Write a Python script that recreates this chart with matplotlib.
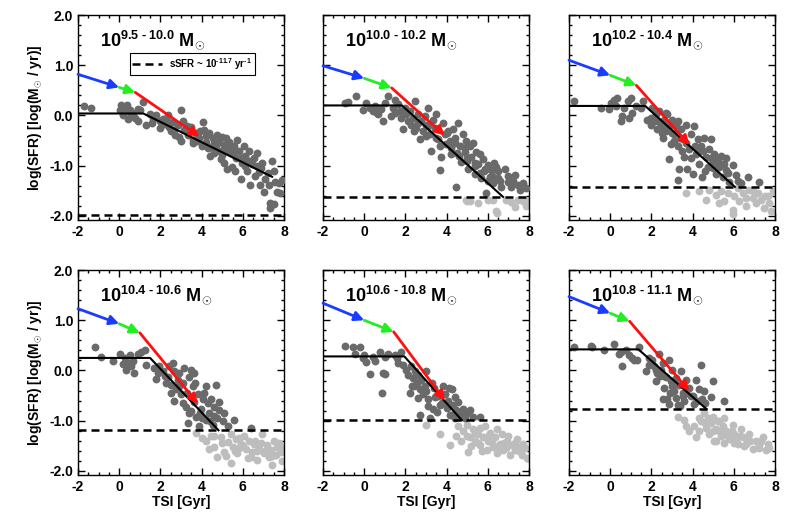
import numpy as np
import matplotlib
matplotlib.use("Agg")
import matplotlib.pyplot as plt
from matplotlib.lines import Line2D
from matplotlib.ticker import MultipleLocator

plt.rcParams['font.family'] = ['Liberation Sans', 'DejaVu Sans']
plt.rcParams['font.weight'] = 'bold'
plt.rcParams['mathtext.fontset'] = 'custom'
plt.rcParams['mathtext.rm'] = 'Liberation Sans:bold'
plt.rcParams['mathtext.it'] = 'Liberation Sans:bold'
plt.rcParams['mathtext.bf'] = 'Liberation Sans:bold'
plt.rcParams['axes.unicode_minus'] = False

# mass bins (exponent ranges)
mass_bins = ['9.5 - 10.0', '10.0 - 10.2', '10.2 - 10.4', '10.4 - 10.6', '10.6 - 10.8', '10.8 - 11.1']

# sSFR ~ 10^-11.7 threshold per bin
ssfr_y = [-1.98, -1.62, -1.42, -1.19, -0.99, -0.77]

# broken-line model: flat until knee, then linear down to end point
flat_y = [0.04, 0.20, 0.19, 0.25, 0.28, 0.42]
knee_x = [1.17, 1.83, 1.70, 1.50, 1.95, 1.37]
end_x = [7.42, 6.74, 6.05, 4.82, 4.74, 4.68]
end_y = [-1.22, -1.62, -1.42, -1.19, -0.99, -0.77]

# arrows blue -> green -> red
blue_y0 = [0.82, 0.99, 1.10, 1.23, 1.34, 1.47]
blue_y1 = [0.56, 0.74, 0.80, 0.93, 1.00, 1.14]
green_x1 = [0.78, 1.33, 1.27, 1.00, 1.43, 0.94]
green_y1 = [0.46, 0.55, 0.60, 0.75, 0.77, 0.98]
red_x1 = [3.90, 3.92, 3.85, 3.82, 3.92, 3.84]
red_y1 = [-0.42, -0.40, -0.59, -0.66, -0.60, -0.41]

# points: star forming (dark) and below threshold (light)
p1_dark_x = [-1.69, -1.36, 0.08, 0.40, 0.03, 0.27, 0.51, 0.59, 0.43, 0.75, 0.91, 0.67, 1.16, 1.00, 1.32,
             1.48, 1.64, 1.80, 1.96, 2.12, 2.20, 2.36, 2.44, 2.60, 2.68, 2.84, 3.00, 3.08, 2.92, 3.16,
             3.32, 3.48, 3.56, 3.72, 3.88, 4.05, 4.10, 4.20, 4.30, 4.37, 4.53, 4.61, 4.69, 4.77, 4.85,
             4.93, 5.00, 5.09, 5.17, 5.25, 5.33, 5.41, 5.49, 5.57, 5.65, 5.73, 5.81, 5.89, 5.97, 6.05,
             6.13, 6.20, 6.28, 6.37, 6.45, 6.53, 6.69, 6.77, 6.85, 6.93, 7.01, 7.09, 7.26, 7.34, 7.42,
             7.50, 7.58, 7.66, 7.74, 7.82, 7.90, 7.50, 7.34, 0.20, 0.90, 1.60, 2.00, 2.30, 2.70, 3.30,
             3.60, 3.90, 4.00, 4.40, 4.60, 4.90, 5.10, 5.40, 5.60, 5.90, 6.10, 6.30, 6.60, 6.90, 7.20,
             5.20, 4.20, 3.00, 2.50, 3.80, 4.50, 5.00, 5.50, 6.00, 6.70]
p1_dark_y = [0.18, 0.14, 0.21, 0.21, 0.11, 0.08, 0.11, 0.00, -0.06, -0.05, -0.10, 0.05, 0.26, 0.10, -0.19,
             0.03, -0.06, 0.00, -0.10, -0.06, -0.16, 0.00, -0.23, -0.13, -0.29, -0.19, 0.10, -0.10, -0.42, -0.29,
             -0.39, -0.23, -0.48, -0.35, -0.45, -0.13, -0.29, -0.52, -0.65, -0.35, -0.45, -0.74, -0.58, -0.39, -0.52,
             -0.87, -0.42, -0.58, -0.68, -1.06, -0.52, -0.74, -1.03, -0.61, -0.84, -0.48, -0.71, -1.26, -0.94, -0.61,
             -0.81, -1.10, -0.71, -1.39, -0.97, -0.84, -0.74, -1.13, -1.39, -0.94, -1.52, -1.26, -1.39, -1.74, -0.90,
             -1.10, -1.32, -1.52, -1.35, -1.55, -1.29, -1.77, -1.85, 0.00, 0.12, -0.15, -0.25, -0.10, -0.38, -0.20,
             -0.55, -0.30, -0.60, -0.80, -0.55, -0.70, -0.95, -0.60, -1.10, -0.85, -1.00, -0.90, -1.20, -1.05, -1.15,
             -0.45, -0.40, -0.50, -0.30, -0.50, -0.62, -0.78, -0.72, -0.92, -1.00]
p1_light_x = []
p1_light_y = []

p2_dark_x = [-0.95, -0.79, -0.41, -0.06, 0.10, 0.27, 0.43, 0.51, 0.67, 0.83, 0.91, 0.99, 1.16, 1.32, 1.40,
             1.48, 1.64, 1.72, 1.80, 1.88, 1.96, 2.05, 2.13, 2.21, 2.29, 2.37, 2.45, 2.53, 2.61, 2.69,
             2.77, 2.85, 2.94, 3.02, 3.10, 3.18, 3.26, 3.34, 3.42, 3.50, 3.58, 3.66, 3.74, 3.83, 3.91,
             3.99, 4.07, 4.15, 4.23, 4.31, 4.39, 4.47, 4.55, 4.63, 4.72, 4.80, 4.88, 4.96, 5.04, 5.12,
             5.20, 5.28, 5.36, 5.44, 5.52, 5.61, 5.69, 5.77, 5.85, 5.93, 6.01, 6.09, 6.17, 6.25, 6.41,
             6.50, 6.66, 6.82, 6.98, 7.14, 7.30, 7.47, 7.55, 7.71, 7.87, 2.40, 3.00, 3.70, 4.20, 4.60,
             5.00, 5.40, 5.80, 6.20, 6.60, 7.00, 4.40, 4.90, 5.60, 6.30, 2.60, 3.10, 3.50, 4.00, 4.50,
             5.00, 5.40, 6.00, 6.50, 7.20, 1.50, 0.60]
p2_dark_y = [0.25, 0.27, 0.38, 0.10, 0.25, 0.15, 0.08, 0.18, 0.02, 0.12, -0.11, 0.25, 0.38, -0.01, 0.15,
             0.31, 0.22, 0.08, -0.05, -0.27, 0.15, 0.02, -0.11, 0.08, -0.18, -0.05, 0.28, -0.24, 0.02, -0.47,
             -0.11, -0.31, -0.01, -0.18, 0.15, -0.37, -0.70, -0.08, -0.24, 0.02, -0.47, -1.09, -0.83, -0.14, -0.37,
             -0.57, -0.31, -0.50, -0.76, -0.27, -0.44, -1.42, -0.14, -0.60, -0.93, -0.37, -0.73, -0.50, -1.06, -0.60,
             -0.83, -0.54, -1.16, -0.73, -0.96, -0.76, -1.25, -0.86, -1.06, -1.55, -0.99, -1.22, -1.09, -1.35, -1.03,
             -1.25, -1.42, -1.06, -1.33, -1.42, -1.19, -1.39, -1.48, -1.35, -1.45, -0.30, -0.40, -0.60, -0.65, -0.80,
             -0.85, -1.00, -1.10, -1.20, -1.30, -1.20, -0.55, -0.65, -1.15, -0.95, -0.15, -0.20, -0.45, -0.35, -0.75,
             -0.90, -0.95, -1.30, -1.10, -1.30, 0.05, 0.05]
p2_light_x = [4.96, 5.12, 6.01, 6.25, 6.41, 6.90, 7.14, 7.30, 7.71, 7.87, 7.47, 6.43, 4.97, 5.50, 7.95]
p2_light_y = [-1.69, -1.71, -1.68, -1.68, -1.91, -1.68, -1.73, -1.83, -1.71, -1.80, -1.68, -1.95, -1.71, -1.75, -1.70]

p3_dark_x = [-1.76, -0.46, -0.06, 0.03, 0.19, 0.27, 0.35, 0.51, 0.59, 0.67, 0.84, 0.92, 1.00, 1.08, 1.24,
             1.48, 1.57, 1.81, 1.97, 2.05, 2.13, 2.21, 2.29, 2.38, 2.46, 2.54, 2.62, 2.70, 2.78, 2.86,
             2.86, 2.94, 3.02, 3.11, 3.19, 3.27, 3.27, 3.35, 3.43, 3.51, 3.59, 3.67, 3.75, 3.83, 3.92,
             4.00, 4.08, 4.16, 4.24, 4.32, 4.40, 4.48, 4.56, 4.65, 4.73, 4.81, 4.89, 4.97, 5.05, 5.13,
             5.21, 5.29, 5.37, 5.46, 5.54, 5.62, 5.78, 5.94, 6.10, 6.35, 6.67, 7.24, 2.30, 2.60, 3.00,
             3.40, 3.70, 4.10, 4.50, 4.90, 5.30, 5.70, 2.00, 2.50, 3.10, 3.50, 3.90, 4.30, 4.60, 5.00,
             5.60, 6.20, 2.70, 3.30]
p3_dark_y = [0.28, 0.15, 0.12, 0.25, 0.31, 0.18, 0.35, -0.11, -0.01, 0.15, 0.28, -0.05, 0.35, 0.05, 0.18,
             0.15, 0.28, -0.08, -0.18, 0.15, -0.11, 0.02, -0.27, 0.08, -0.18, -0.44, -0.08, -0.31, 0.02, -0.21,
             -0.86, -0.57, -0.08, -0.37, -0.18, -0.60, -1.29, -1.06, -0.27, -0.47, -0.83, -0.18, -1.06, -0.67, -0.37,
             -1.16, -0.21, -0.76, -0.47, -0.96, -0.60, -1.22, -0.44, -0.83, -1.03, -0.67, -0.47, -0.93, -0.76, -1.16,
             -0.86, -1.03, -0.80, -1.22, -0.96, -1.09, -1.32, -0.99, -1.19, -1.35, -1.22, -1.32, -0.10, -0.25, -0.35,
             -0.45, -0.55, -0.60, -0.70, -0.85, -0.95, -1.15, -0.05, -0.35, -0.50, -0.70, -0.85, -0.70, -1.10, -1.05,
             -0.85, -1.30, 0.05, -0.10]
p3_light_x = [3.67, 4.65, 4.81, 5.13, 5.29, 5.54, 5.70, 5.94, 6.02, 6.18, 6.27, 6.43, 6.59, 6.75, 6.91,
              7.08, 7.16, 7.32, 7.48, 7.64, 7.72, 7.89, 7.81, 5.94, 5.40, 6.60, 7.00, 7.50, 4.30]
p3_light_y = [-1.55, -1.68, -1.48, -1.58, -1.75, -1.71, -1.55, -1.88, -1.61, -1.45, -1.71, -1.55, -1.81, -1.48, -1.65,
              -1.75, -1.55, -1.68, -1.85, -1.61, -1.75, -1.51, -1.91, -1.97, -1.50, -1.65, -1.52, -1.60, -1.50]

p4_dark_x = [-1.19, -0.90, -0.31, 0.06, 0.26, 0.42, 0.50, 0.58, 0.66, 0.34, 0.74, 0.90, 1.06, 1.23, 1.71,
             1.79, 1.87, 1.95, 2.11, 2.27, 2.35, 2.44, 2.52, 2.60, 2.68, 2.76, 2.68, 2.84, 2.92, 3.00,
             3.08, 3.16, 3.24, 3.32, 3.40, 3.48, 3.56, 3.65, 3.65, 3.73, 3.81, 3.89, 3.97, 4.05, 4.13,
             4.21, 4.29, 4.37, 4.45, 4.53, 4.61, 4.69, 4.77, 4.85, 5.02, 5.10, 5.58, 6.39, 4.85, 2.20,
             2.90, 3.30, 3.50, 3.90, 4.40, 2.50, 3.10, 3.40, 3.70, 4.00, 4.20, 4.60, 5.30, 1.30, 0.20]
p4_dark_y = [0.47, 0.26, 0.19, 0.32, 0.24, 0.14, 0.30, 0.08, 0.19, 0.01, -0.05, 0.33, 0.37, 0.40, 0.04,
             -0.17, -0.05, 0.08, -0.02, -0.24, -0.12, 0.08, -0.28, 0.14, -0.02, -0.37, -0.60, -0.18, -0.05, -0.47,
             -0.24, 0.04, -0.72, -1.04, -0.12, 0.01, -0.31, -0.63, -0.05, -0.92, -0.47, -1.11, -0.76, -0.56, -0.44,
             -0.98, -0.65, -0.85, -0.56, -1.08, -0.72, -0.28, -0.95, -0.79, -1.01, -0.85, -0.98, -1.14, -0.63, -0.10,
             -0.30, -0.45, -0.80, -0.85, -1.00, -0.45, -0.65, -0.85, -0.25, -0.95, -0.30, -0.90, -1.10, 0.10, 0.12]
p4_light_x = [3.73, 4.21, 4.45, 4.61, 4.77, 4.94, 5.10, 5.26, 5.42, 5.50, 5.66, 5.74, 5.90, 6.06, 6.15,
              6.23, 6.31, 6.47, 6.55, 6.71, 6.79, 6.95, 7.03, 7.19, 7.27, 7.35, 7.52, 7.60, 7.68, 7.84,
              7.44, 7.92, 6.39, 4.37, 5.42, 5.00, 5.80, 6.60, 7.10, 7.75, 4.00, 4.60, 5.20, 5.60, 6.00,
              6.90, 7.40, 7.90, 6.70, 5.80]
p4_light_y = [-1.24, -1.40, -1.30, -1.53, -1.72, -1.33, -1.62, -1.43, -1.27, -1.53, -1.36, -1.65, -1.46, -1.30, -1.56,
              -1.75, -1.40, -1.62, -1.46, -1.78, -1.56, -1.27, -1.65, -1.49, -1.72, -1.59, -1.40, -1.69, -1.53, -1.62,
              -1.88, -1.81, -1.72, -1.56, -1.85, -1.45, -1.55, -1.40, -1.60, -1.45, -1.35, -1.30, -1.70, -1.60, -1.50,
              -1.45, -1.70, -1.55, -1.60, -1.35]

p5_dark_x = [-0.95, -0.54, -0.22, -0.46, -0.06, 0.11, 0.27, 0.43, 0.51, 0.76, 0.84, 0.92, 1.00, 1.00, 1.16,
             1.57, 1.65, 1.81, 1.89, 2.05, 2.13, 2.21, 2.25, 2.38, 2.46, 2.54, 2.62, 2.70, 2.78, 2.86,
             2.94, 3.02, 3.11, 2.70, 3.19, 3.27, 3.35, 3.43, 3.51, 3.67, 3.83, 3.92, 4.08, 4.16, 4.24,
             4.32, 4.40, 4.48, 4.56, 4.65, 4.81, 4.97, 5.13, 5.29, 5.62, 4.24, 2.40, 3.00, 3.60, 4.00,
             2.30, 2.60, 3.10, 3.40, 3.80, 4.10, 4.40, 4.90, 1.50, 0.00]
p5_dark_y = [0.49, 0.46, 0.47, 0.33, 0.24, 0.17, -0.06, 0.27, 0.19, 0.37, -0.44, -0.04, -0.06, 0.27, 0.33,
             0.24, 0.14, 0.37, 0.11, 0.01, -0.08, -0.44, 0.08, -0.15, -0.02, -0.24, -0.08, -0.37, -0.18, -0.47,
             -0.31, -0.02, -0.56, -0.88, -0.95, -0.24, -0.76, -0.53, -0.82, -0.69, -0.31, -0.47, -0.60, -0.88, -0.37,
             -0.69, -0.53, -0.79, -0.63, -0.88, -0.76, -0.85, -0.79, -0.92, -0.92, -0.88, -0.30, -0.40, -0.50, -0.75,
             -0.30, -0.55, -0.70, -0.35, -0.65, -0.35, -0.95, -0.95, 0.30, 0.30]
p5_light_x = [3.02, 3.67, 4.16, 4.48, 4.56, 4.81, 4.97, 5.05, 5.13, 5.29, 5.37, 5.54, 5.62, 5.78, 5.86,
              5.94, 6.02, 6.10, 6.27, 6.35, 6.43, 6.59, 6.67, 6.75, 6.91, 7.08, 7.16, 7.32, 7.40, 7.56,
              7.64, 7.72, 7.89, 6.43, 5.62, 5.00, 5.50, 6.20, 6.90, 7.30, 5.20, 5.70, 6.00, 6.50, 6.80,
              7.50, 7.00, 7.80, 4.70, 5.40]
p5_light_y = [-1.09, -1.27, -1.49, -1.30, -1.11, -1.21, -1.08, -1.62, -1.33, -1.17, -1.40, -1.27, -1.49, -1.33, -1.11,
              -1.59, -1.40, -1.24, -1.53, -1.33, -1.65, -1.46, -1.27, -1.59, -1.40, -1.69, -1.49, -1.59, -1.36, -1.53,
              -1.69, -1.46, -1.75, -1.17, -1.14, -1.30, -1.45, -1.45, -1.55, -1.45, -1.50, -1.60, -1.30, -1.50, -1.45,
              -1.60, -1.30, -1.55, -1.40, -1.25]

p6_dark_x = [-1.76, -0.95, -0.87, -0.30, 0.19, 0.43, 0.51, 0.59, 0.76, 1.08, 1.16, 1.32, 1.40, 1.73, 1.89,
             2.05, 2.13, 2.21, 2.29, 2.38, 2.46, 2.54, 2.62, 2.70, 2.78, 2.86, 2.86, 2.94, 3.02, 3.11,
             3.19, 3.27, 3.35, 3.43, 3.51, 3.59, 3.67, 3.83, 4.00, 4.08, 4.16, 4.32, 4.40, 4.48, 4.56,
             4.89, 4.97, 5.54, 3.51, 2.54, 2.40, 3.00, 3.70, 2.20, 2.60, 2.90, 3.20, 3.40, 3.90, 4.20,
             4.60, 3.00, 1.90, 0.90]
p6_dark_y = [0.46, 0.49, 0.47, 0.40, 0.53, 0.32, 0.37, 0.08, 0.40, 0.24, 0.21, 0.21, 0.46, -0.02, 0.11,
             0.21, 0.08, -0.21, -0.05, 0.33, 0.01, 0.14, -0.34, -0.12, -0.56, -0.66, 0.21, -0.21, 0.01, -0.40,
             -0.15, -0.69, -0.28, -0.02, -0.44, -0.60, -0.18, -0.34, -0.50, -0.66, -0.18, -0.37, 0.11, -0.56, -0.40,
             -0.53, -0.21, -0.60, -0.50, -0.56, -0.10, -0.30, -0.45, 0.00, -0.10, -0.45, -0.55, -0.70, -0.50, -0.60,
             -0.65, -0.20, 0.25, 0.30]
p6_light_x = [3.27, 3.59, 3.67, 3.83, 4.08, 4.16, 4.40, 4.56, 4.65, 4.73, 4.81, 4.89, 4.97, 5.05, 5.13,
              5.21, 5.37, 5.46, 5.54, 5.62, 5.78, 5.94, 6.02, 6.18, 6.35, 6.43, 6.59, 6.75, 6.91, 7.08,
              7.24, 7.40, 7.56, 7.64, 5.13, 6.10, 4.30, 5.30, 5.90, 6.60, 7.30, 4.30, 4.60, 5.00, 5.30,
              5.70, 6.00, 6.30, 6.80, 7.20, 7.70, 6.50, 5.50]
p6_light_y = [-0.92, -0.98, -1.11, -1.21, -1.11, -1.33, -1.01, -0.85, -1.14, -0.95, -1.27, -1.04, -0.92, -1.40, -1.17,
              -1.01, -1.30, -1.11, -0.95, -1.21, -1.36, -1.08, -1.27, -1.46, -1.17, -1.33, -1.46, -1.27, -1.56, -1.40,
              -1.49, -1.33, -1.59, -1.46, -1.40, -1.36, -0.95, -1.20, -1.20, -1.35, -1.40, -1.20, -1.05, -1.20, -1.00,
              -1.30, -1.45, -1.30, -1.40, -1.55, -1.55, -1.50, -1.45]

dark_x = [p1_dark_x, p2_dark_x, p3_dark_x, p4_dark_x, p5_dark_x, p6_dark_x]
dark_y = [p1_dark_y, p2_dark_y, p3_dark_y, p4_dark_y, p5_dark_y, p6_dark_y]
light_x = [p1_light_x, p2_light_x, p3_light_x, p4_light_x, p5_light_x, p6_light_x]
light_y = [p1_light_y, p2_light_y, p3_light_y, p4_light_y, p5_light_y, p6_light_y]

W, H = 789, 527
fig = plt.figure(figsize=(W / 100, H / 100), dpi=100)

col_left = [78, 323, 569]
row_top = [15, 270]
ax_w, ax_h = 206, 205

dash = (0, (3.2, 2.0))

for i in range(6):
    r, c = divmod(i, 3)
    ax = fig.add_axes([col_left[c] / W, 1 - (row_top[r] + ax_h) / H, ax_w / W, ax_h / H])
    ax.set_xlim(-2, 8)
    ax.set_ylim(-2.08, 2.0)

    ax.scatter(light_x[i], light_y[i], s=32, color='#bdbdbd', linewidths=0, zorder=2)
    ax.scatter(dark_x[i], dark_y[i], s=32, color='#6a6a6a', linewidths=0, zorder=3)

    # model
    ax.plot([-2, knee_x[i], end_x[i]], [flat_y[i], flat_y[i], end_y[i]], color='black', lw=1.5, zorder=4)
    ax.axhline(ssfr_y[i], color='black', lw=1.8, ls=dash, zorder=4)

    # arrows
    segs = [((-2, blue_y0[i]), (0, blue_y1[i]), '#1a3cff'),
            ((0, blue_y1[i]), (green_x1[i], green_y1[i]), '#22ee22'),
            ((green_x1[i], green_y1[i]), (red_x1[i], red_y1[i]), '#ff1010')]
    for start, end, col in segs:
        ax.annotate('', xy=end, xytext=start, annotation_clip=False,
                    arrowprops=dict(arrowstyle='-|>', color=col, lw=2.0, mutation_scale=14,
                                    shrinkA=0, shrinkB=0), zorder=5)

    ax.text(0.105, 0.845, r'$10^{\text{%s}}$ M$_{\odot}$' % mass_bins[i],
            transform=ax.transAxes, fontsize=13, fontweight='bold', va='baseline', ha='left')

    ax.xaxis.set_major_locator(MultipleLocator(2))
    ax.xaxis.set_minor_locator(MultipleLocator(0.5))
    ax.yaxis.set_major_locator(MultipleLocator(1))
    ax.yaxis.set_minor_locator(MultipleLocator(0.2))
    ax.tick_params(which='both', direction='in', top=True, right=True, labelsize=10, width=1)
    ax.tick_params(which='major', length=5)
    ax.tick_params(which='minor', length=2.5)
    ax.yaxis.set_major_formatter(plt.FuncFormatter(lambda v, p: '%.1f' % v))
    for lab in ax.get_xticklabels() + ax.get_yticklabels():
        lab.set_fontweight('bold')
    for sp in ax.spines.values():
        sp.set_linewidth(1.0)

    if c == 0:
        ax.set_ylabel(r'log(SFR) [log(M$_{\odot}$ / yr)]', fontsize=10, fontweight='bold', labelpad=4)
    else:
        ax.set_yticklabels([])
    if r == 1:
        ax.set_xlabel('TSI [Gyr]', fontsize=10, fontweight='bold', labelpad=1)

    if i == 0:
        h = Line2D([], [], color='black', lw=1.8, ls=dash)
        leg = ax.legend([h], [r'sSFR ~ 10$^{\text{-11.7}}$ yr$^{\text{-1}}$'], loc='upper left',
                        bbox_to_anchor=(0.25, 0.815), prop={'size': 7, 'weight': 'bold'},
                        fancybox=False, framealpha=1, edgecolor='black', handlelength=3.0,
                        borderpad=0.3, borderaxespad=0)
        leg.get_frame().set_linewidth(0.8)

fig.savefig('out.png', dpi=100)
